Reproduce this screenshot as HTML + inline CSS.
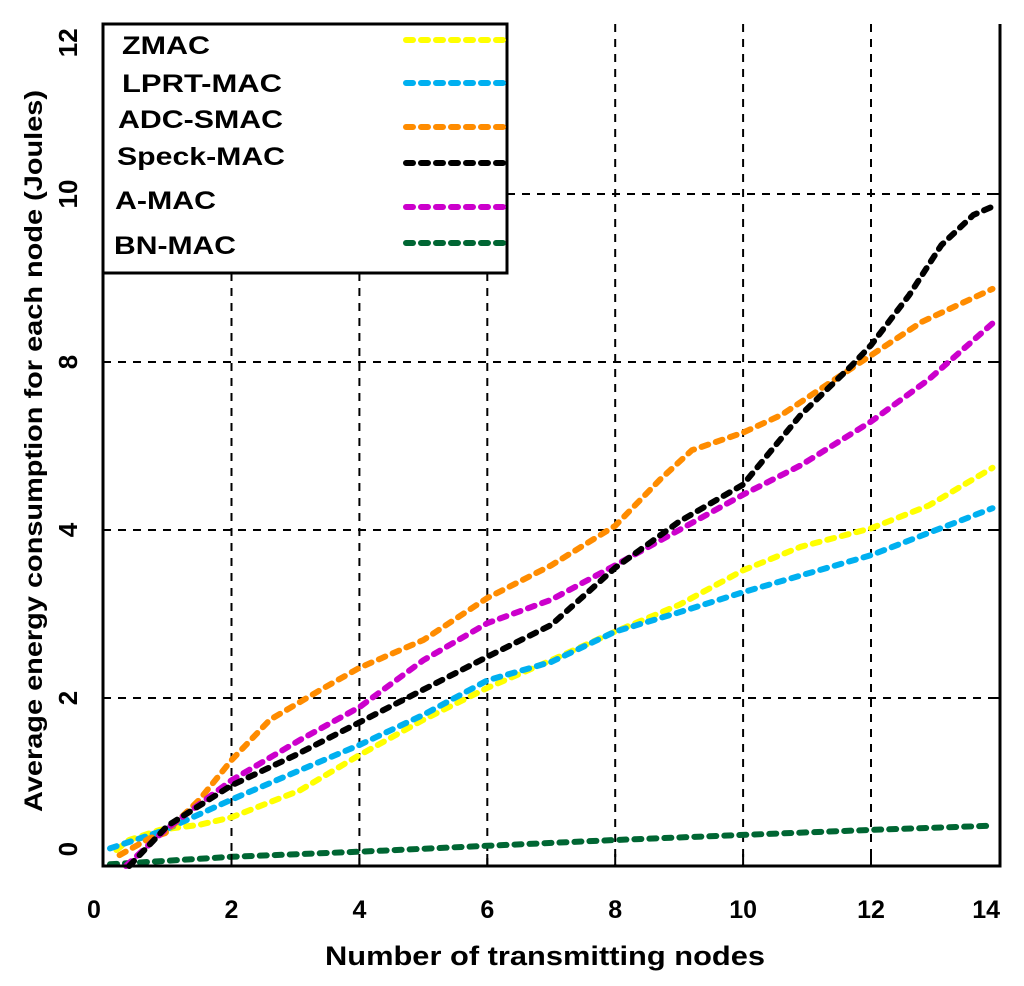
<!DOCTYPE html>
<html><head><meta charset="utf-8"><style>
html,body{margin:0;padding:0;background:#fff;}
svg{display:block;font-family:"Liberation Sans",Arial,sans-serif;font-weight:bold;}
</style></head><body>
<svg id="chart" width="1024" height="986" viewBox="0 0 1024 986">
<g id="grid"></g>
<g id="series"></g>
<g id="axes"></g>
<g id="legend"></g>
<text x="545" y="965" font-size="27" text-anchor="middle" textLength="440" lengthAdjust="spacingAndGlyphs">Number of transmitting nodes</text>
<text transform="translate(42,451) rotate(-90)" font-size="25" text-anchor="middle" textLength="722" lengthAdjust="spacingAndGlyphs">Average energy consumption for each node (Joules)</text>
</svg>
<script>
const xTicks = [2,4,6,8,10,12];
const xTickLabels = ["0","2","4","6","8","10","12","14"];
const xTickLabelVals = [-0.15,2,4,6,8,10,12,13.8];
const yGrid = [2,4,6,8];
const yTickLabels = ["0","2","4","8","10","12"];
const yTickLabelVals = [0.2,2,4,6,8,9.8];

const seriesNames = ["ZMAC","LPRT-MAC","ADC-SMAC","Speck-MAC","A-MAC","BN-MAC"];
const seriesColors = ["#ffff00","#00b0f0","#ff8c00","#000000","#cc00cc","#006633"];
const zmacX = [0.2,0.4,0.88,1.5,2,3.07,4,5,6,7,8,9,10,10.9,12,12.9,13.9];
const zmacY = [0.19,0.31,0.43,0.49,0.58,0.9,1.32,1.74,2.12,2.45,2.79,3.11,3.52,3.80,4.02,4.29,4.74];
const lprtX = [0.1,0.96,2,3.07,4,5,6,7,8,9,10,12,13.9];
const lprtY = [0.21,0.43,0.79,1.14,1.44,1.8,2.21,2.43,2.79,3.02,3.26,3.70,4.26];
const adcX = [0.25,0.72,0.96,1.5,2,2.6,3.4,4,5,6,7,8,8.7,9.2,10,10.6,12,12.8,13.9];
const adcY = [0.13,0.33,0.39,0.79,1.26,1.74,2.10,2.36,2.69,3.19,3.58,4.05,4.60,4.95,5.16,5.37,6.08,6.48,6.87];
const speckX = [0.4,1.0,2,3,4,5,6,7,8,8.6,9,10,10.9,11.7,12,12.6,13.1,13.6,13.9];
const speckY = [0,0.48,0.96,1.32,1.71,2.10,2.49,2.87,3.55,3.88,4.10,4.54,5.37,5.96,6.20,6.80,7.39,7.75,7.85];
const amacX = [0.35,0.96,2,3.07,4,5,6,7,8,9,10,10.9,12,12.9,13.9];
const amacY = [0,0.43,1.02,1.5,1.89,2.45,2.89,3.17,3.58,4.0,4.42,4.77,5.29,5.79,6.46];
const bnX = [0.1,2,4,6,8,10,12,13.9];
const bnY = [0.02,0.11,0.17,0.24,0.31,0.37,0.43,0.48];

const NS="http://www.w3.org/2000/svg";
const L=103, R=1000, T=24, B=866;
function xs(v){return 103.6+v*63.95;}
function ys(v){return 866-v*84;}
function mk(tag,attrs,parent){const e=document.createElementNS(NS,tag);for(const k in attrs)e.setAttribute(k,attrs[k]);parent.appendChild(e);return e;}
const grid=document.getElementById('grid'), axes=document.getElementById('axes'), ser=document.getElementById('series'), leg=document.getElementById('legend');
const legendRight=507, legendBottom=273;

xTicks.forEach(v=>{
  const x=xs(v);
  const top = x<legendRight ? legendBottom : T;
  const ln=mk('line',{x1:x,y1:top,x2:x,y2:B,stroke:'#000','stroke-width':2,'stroke-dasharray':'8 7'},grid);
  
  
  const tk=mk('line',{x1:x,y1:B-12,x2:x,y2:B,stroke:'#000','stroke-width':2},axes);
  
  
});
yGrid.forEach(v=>{
  const y=ys(v);
  const left = y<legendBottom ? legendRight : L;
  const ln=mk('line',{x1:left,y1:y,x2:R,y2:y,stroke:'#000','stroke-width':2,'stroke-dasharray':'8 7'},grid);
  
  
  const tk=mk('line',{x1:R-12,y1:y,x2:R,y2:y,stroke:'#000','stroke-width':2},axes);
  
  
});
const ax1=mk('polyline',{points:`${L},${T} ${L},${B} ${R},${B} ${R},${T}`,fill:'none',stroke:'#000','stroke-width':3},axes);



xTickLabels.forEach((t,i)=>{
  const e=mk('text',{x:xs(xTickLabelVals[i]),y:918,'font-size':25,'text-anchor':'middle'},axes);
  e.textContent=t;
  
  
});
yTickLabels.forEach((t,i)=>{
  const e=mk('text',{transform:`translate(77,${ys(yTickLabelVals[i])}) rotate(-90)`,'font-size':26,'text-anchor':'middle'},axes);
  e.textContent=t;
  
  
});

const allX=[zmacX,lprtX,adcX,speckX,amacX,bnX], allY=[zmacY,lprtY,adcY,speckY,amacY,bnY];
const order=[5,0,1,2,4,3];
order.forEach(i=>{
  const pts=allX[i].map((x,j)=>xs(x).toFixed(1)+','+ys(allY[i][j]).toFixed(1)).join(' ');
  const p=mk('polyline',{points:pts,fill:'none',stroke:seriesColors[i],'stroke-width':6,'stroke-dasharray':'7 8','stroke-linecap':'round','stroke-linejoin':'round'},ser);
  
  
});

const lb=mk('rect',{x:L,y:T,width:legendRight-L,height:legendBottom-T,fill:'#fff',stroke:'#000','stroke-width':3},leg);


const textY=[54,92,128,165,209,254], textX=[122,122,118,117,115,114], lineY=[40,83,127,163,207,243];
const textW=[88,160,165,168,101,122];
seriesNames.forEach((n,i)=>{
  const t=mk('text',{x:textX[i],y:textY[i],'font-size':25,textLength:textW[i],lengthAdjust:'spacingAndGlyphs'},leg);
  t.textContent=n;
  
  
  const l=mk('line',{x1:406,y1:lineY[i],x2:503,y2:lineY[i],stroke:seriesColors[i],'stroke-width':6,'stroke-dasharray':'7 8','stroke-linecap':'round'},leg);
  
  
});
</script>
</body></html>
